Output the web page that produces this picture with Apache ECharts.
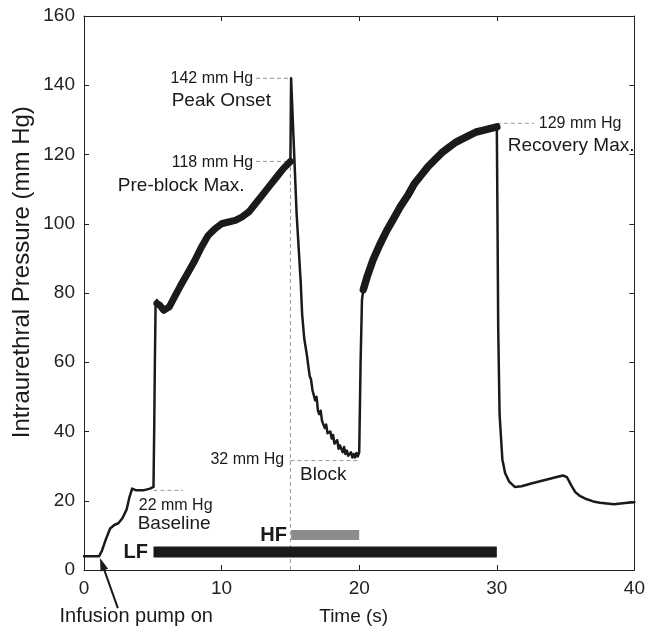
<!DOCTYPE html>
<html><head><meta charset="utf-8">
<script src="https://cdn.jsdelivr.net/npm/echarts@6/dist/echarts.min.js"></script>
<style>html,body{margin:0;padding:0;background:#fff}#c{width:648px;height:630px}</style>
</head><body><div id="c"></div>
<script>
// ---- data ----
const xTicks = [0, 10, 20, 30, 40];
const yTicks = [0, 20, 40, 60, 80, 100, 120, 140, 160];
// pressure trace (time s, mmHg), split into thin and noisy (thick) parts
const segRampUp = [[0,4],[1.1,4],[1.3,5.5],[1.6,9],[1.9,12],[2.2,13],[2.5,13.5],[2.8,15],[3.1,17.5],[3.3,21],[3.5,23.5],[3.8,23],[4.3,23],[4.8,23.5],[5.05,24],[5.1,40],[5.15,60],[5.2,76],[5.3,78]];
const segPreBlock = [[5.3,77],[5.5,76.5],[5.8,75],[6.2,76],[6.6,79],[7.0,82],[7.5,85.5],[8.0,89],[8.5,93],[9.0,96.5],[9.5,98.5],[10.0,100],[10.5,100.5],[11.0,101],[11.5,102],[12.0,103.5],[12.5,106],[13.0,108.5],[13.5,111],[14.0,113.5],[14.5,116],[15.0,118]];
const segBlock = [[15.0,118],[15.05,142],[15.45,103],[15.75,83],[15.85,74],[16.0,67],[16.2,62],[16.4,56],[16.5,55],[16.6,52],[16.8,49],[16.9,50],[17.0,46],[17.1,45],[17.2,46],[17.3,43],[17.5,41],[17.6,42],[17.7,39.5],[17.9,40],[18.0,38],[18.1,39],[18.2,36.5],[18.4,37.5],[18.5,35],[18.6,36],[18.8,34],[18.9,35.5],[19.0,33.5],[19.1,34.5],[19.2,33],[19.4,34],[19.5,32.5],[19.6,33.5],[19.7,32.5],[19.8,33.8],[19.9,32.8],[20.0,34],[20.1,60],[20.2,78],[20.3,81]];
const segRecovery = [[20.3,81],[20.6,85],[21.0,89.5],[21.5,94],[22.0,98],[22.5,101.5],[23.0,105],[23.5,108],[24.0,111.5],[24.5,114],[25.0,116.5],[25.5,118.5],[26.0,120.5],[26.5,122],[27.0,123.5],[27.5,124.5],[28.0,125.5],[28.5,126.5],[29.0,127],[29.5,127.5],[30.0,128]];
const segPost = [[30.0,128],[30.05,100],[30.1,70],[30.2,45],[30.4,32],[30.6,28],[30.9,25.5],[31.3,24],[31.8,24.2],[32.5,25],[33.0,25.5],[33.5,26],[34.0,26.5],[34.5,27],[34.8,27.3],[35.1,26.8],[35.4,24.5],[35.7,22.5],[36.0,21.5],[36.5,20.5],[37.0,19.8],[37.5,19.4],[38.0,19.2],[38.5,19.0],[39.0,19.2],[39.5,19.4],[40,19.6]];
// stimulation bars
const hfBar = [[15.05,10.1],[20,10.1]];
const lfBar = [[5.05,5.2],[30,5.2]];
// reference dashed lines
const dashOnset = [[15,0],[15,142]];
const dashPeak = [[12.5,142],[15.05,142]];
const dashPre = [[12.5,118],[15,118]];
const dashRec = [[30,129],[32.7,129]];
const dashBase = [[5.05,23],[7.2,23]];
const dashBlock = [[15,31.6],[20,31.6]];
// annotation texts
const valueLabels = ['142 mm Hg','118 mm Hg','129 mm Hg','22 mm Hg','32 mm Hg'];
const nameLabels = ['Peak Onset','Pre-block Max.','Recovery Max.','Baseline','Block'];
const barLabels = ['HF','LF'];
const xName = 'Time (s)';
const yName = 'Intraurethral Pressure (mm Hg)';
const pumpLabel = 'Infusion pump on';

// ---- chart ----
const FONT = 'Liberation Sans';
const traceColor = '#1a1a1a';
const axisColor = '#222';
const chart = echarts.init(document.getElementById('c'), null, {renderer:'canvas'});

function lineSeries(data, width, color, type) {
  return {type:'line', data:data, symbol:'none', silent:true, animation:false,
    lineStyle:{width:width, color:color, type:type||'solid', cap:type?'butt':'round', join:'round'},
    z: type ? 1 : 3};
}
const dashColor = '#999';
const axisCommon = {
  type:'value', axisLine:{show:true, onZero:false, lineStyle:{color:axisColor, width:1}},
  axisTick:{show:true, inside:true, length:5, lineStyle:{color:axisColor}},
  splitLine:{show:false}
};
chart.setOption({
  animation:false,
  backgroundColor:'#fff',
  grid:{left:84, right:11, top:16, bottom:60},
  xAxis:[
    Object.assign({}, axisCommon, {position:'bottom', min:xTicks[0], max:xTicks[xTicks.length-1], interval:10,
      axisLabel:{fontSize:19, fontFamily:FONT, color:'#222', margin:9}}),
    Object.assign({}, axisCommon, {position:'top', min:xTicks[0], max:xTicks[xTicks.length-1], interval:10,
      axisLabel:{show:false}})
  ],
  yAxis:[
    Object.assign({}, axisCommon, {position:'left', min:yTicks[0], max:yTicks[yTicks.length-1], interval:20,
      axisLabel:{fontSize:19, fontFamily:FONT, color:'#222', margin:9}}),
    Object.assign({}, axisCommon, {position:'right', min:yTicks[0], max:yTicks[yTicks.length-1], interval:20,
      axisLabel:{show:false}})
  ],
  series:[
    lineSeries(dashOnset,1,dashColor,[4,3]),
    lineSeries(dashPeak,1,dashColor,[4,3]),
    lineSeries(dashPre,1,dashColor,[4,3]),
    lineSeries(dashRec,1,dashColor,[4,3]),
    lineSeries(dashBase,1,dashColor,[4,3]),
    lineSeries(dashBlock,1,dashColor,[4,3]),
    Object.assign(lineSeries(hfBar,10,'#8c8c8c'), {lineStyle:{width:10,color:'#8c8c8c',cap:'butt'}}),
    Object.assign(lineSeries(lfBar,11,traceColor), {lineStyle:{width:11,color:traceColor,cap:'butt'}}),
    lineSeries(segRampUp,2.5,traceColor),
    lineSeries(segPreBlock,7,traceColor),
    lineSeries(segBlock,2.5,traceColor),
    lineSeries(segRecovery,7.5,traceColor),
    lineSeries(segPost,2.5,traceColor)
  ]
});

function px(pt){ return chart.convertToPixel({gridIndex:0}, pt); }
function txt(pt, text, size, align, weight, color) {
  const p = px(pt);
  return {type:'text', x:p[0], y:p[1], silent:true, z:10,
    style:{text:text, fontSize:size, fontFamily:FONT, fontWeight:weight||'normal', fill:color||'#1a1a1a',
      align:align, verticalAlign:'middle'}};
}
const g = [];
g.push(txt([12.3,142], valueLabels[0], 16, 'right'));
g.push(txt([6.37,135.5], nameLabels[0], 19, 'left'));
g.push(txt([12.3,117.8], valueLabels[1], 16, 'right'));
g.push(txt([2.46,110.9], nameLabels[1], 19, 'left'));
g.push(txt([33.05,129], valueLabels[2], 16, 'left'));
g.push(txt([30.8,122.6], nameLabels[2], 19, 'left'));
g.push(txt([3.98,18.5], valueLabels[3], 16, 'left'));
g.push(txt([3.9,13.3], nameLabels[3], 19, 'left'));
g.push(txt([14.55,31.8], valueLabels[4], 16, 'right'));
g.push(txt([15.7,27.4], nameLabels[4], 19, 'left'));
g.push(txt([14.75,10.1], barLabels[0], 20, 'right', 'bold'));
g.push(txt([4.65,5.2], barLabels[1], 20, 'right', 'bold'));
// axis names
const xn = px([19.6, -13.5]);
g.push({type:'text', x:xn[0], y:xn[1], silent:true,
  style:{text:xName, fontSize:19, fontFamily:FONT, fill:'#1a1a1a', align:'center', verticalAlign:'middle'}});
g.push(txt([-1.78,-13.5], pumpLabel, 20, 'left'));
const yn = px([-4.48, 86]);
g.push({type:'text', x:yn[0], y:yn[1], rotation:Math.PI/2, silent:true,
  style:{text:yName, fontSize:24, fontFamily:FONT, fill:'#1a1a1a', align:'center', verticalAlign:'middle'}});
// arrow: infusion pump on
const tip = px([1.16,3.5]), tail = px([2.46,-11]);
const dx = tip[0]-tail[0], dy = tip[1]-tail[1], L = Math.sqrt(dx*dx+dy*dy);
const ux = dx/L, uy = dy/L, hl = 13, hw = 4;
const base = [tip[0]-ux*hl, tip[1]-uy*hl];
g.push({type:'line', silent:true, z:10, shape:{x1:tail[0], y1:tail[1], x2:base[0], y2:base[1]},
  style:{stroke:traceColor, lineWidth:2}});
g.push({type:'polygon', silent:true, z:10, shape:{points:[tip,[base[0]-uy*hw, base[1]+ux*hw],[base[0]+uy*hw, base[1]-ux*hw]]},
  style:{fill:traceColor}});
chart.setOption({graphic:g});
</script>
</body></html>
